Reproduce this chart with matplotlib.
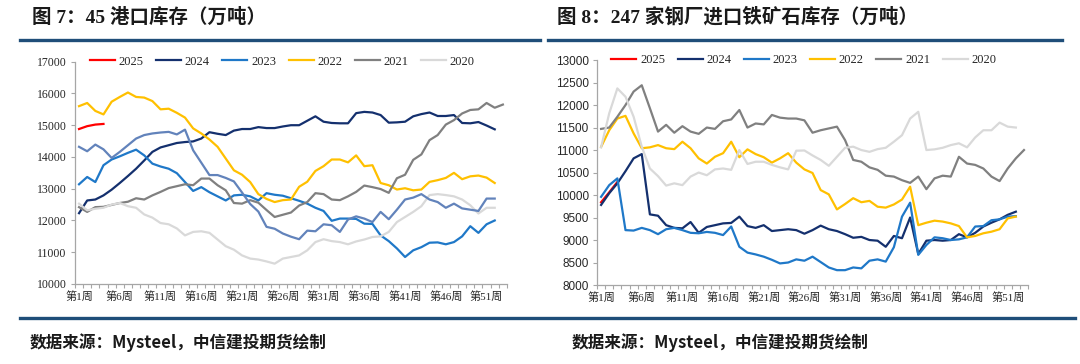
import matplotlib
matplotlib.use("Agg")
import matplotlib.pyplot as plt
from matplotlib.lines import Line2D

# ---- data ----------------------------------------------------------------
week_labels = [f"第{i}周" for i in range(1, 54)]
years = ["2025", "2024", "2023", "2022", "2021", "2020"]
year_colors = ["#ff0000", "#14306e", "#1f78c8", "#ffc000", "#808080", "#d9d9d9"]
extra_color = "#6283bb"  # unlabeled series on the port chart

# 45 港口库存（万吨）
port_2025 = [14880, 14970, 15020, 15040]
port_2024 = [12230, 12630, 12660, 12790, 12970, 13180, 13400, 13630, 13890, 14160,
             14300, 14370, 14440, 14470, 14490, 14580, 14780, 14730, 14690, 14830,
             14880, 14880, 14940, 14910, 14910, 14960, 15000, 15000, 15140, 15280,
             15110, 15070, 15060, 15060, 15380, 15420, 15400, 15320, 15080, 15090,
             15110, 15280, 15350, 15400, 15290, 15290, 15320, 15070, 15060, 15100,
             14990, 14870]
port_2023 = [13140, 13370, 13210, 13740, 13920, 14020, 14130, 14230, 14050, 13790,
             13700, 13630, 13490, 13210, 12930, 13050, 12890, 12760, 12630, 12790,
             12810, 12760, 12630, 12860, 12810, 12780, 12700, 12620, 12530, 12400,
             12300, 11990, 12060, 12060, 12050, 11900, 11890, 11530, 11350, 11120,
             10850, 11060, 11160, 11300, 11310, 11250, 11320, 11500, 11820, 11610,
             11880, 12000]
port_2022 = [15600, 15700, 15450, 15340, 15740, 15890, 16030, 15890, 15870, 15760,
             15500, 15520, 15390, 15240, 14900, 14740, 14550, 14320, 13950, 13580,
             13440, 13210, 12830, 12680, 12580, 12640, 12660, 13060, 13220, 13560,
             13710, 13920, 13920, 13830, 14050, 13710, 13740, 13180, 13110, 12975,
             13015, 12950, 12975, 13215, 13270, 13340, 13500, 13300, 13390, 13415,
             13350, 13180]
port_2021 = [12420, 12270, 12420, 12430, 12490, 12550, 12590, 12700, 12660, 12790,
             12900, 13020, 13080, 13140, 13110, 13320, 13320, 13110, 12950, 12550,
             12530, 12640, 12560, 12330, 12110, 12180, 12250, 12470, 12580, 12860,
             12830, 12660, 12640, 12760, 12900, 13100, 13050, 12990, 12870, 13330,
             13440, 13910, 14080, 14530, 14690, 15020, 15160, 15370, 15480, 15500,
             15700, 15550, 15650]
port_2020 = [12530, 12320, 12370, 12400, 12500, 12550, 12450, 12400, 12190, 12090,
             11920, 11880, 11750, 11530, 11640, 11660, 11610, 11400, 11190, 11080,
             10900, 10800, 10770, 10710, 10640, 10800, 10850, 10900, 11060, 11320,
             11410, 11350, 11320, 11250, 11340, 11400, 11480, 11500, 11640, 11950,
             12110, 12270, 12450, 12800, 12830, 12800, 12760, 12660, 12480, 12220,
             12400, 12400]
port_extra = [14320, 14180, 14390, 14240, 13970, 14160, 14370, 14580, 14690, 14740,
              14770, 14790, 14710, 14860, 14210, 13820, 13430, 13430, 13340, 13230,
              12880, 12520, 12280, 11800, 11740, 11590, 11490, 11410, 11680, 11660,
              11880, 11850, 11640, 12030, 12130, 12060, 11950, 12270, 12040, 12340,
              12660, 12720, 12830, 12660, 12580, 12400, 12530, 12380, 12340, 12300,
              12690, 12690]

# 247 家钢厂进口铁矿石库存（万吨）
mill_2025 = [9840, 10060, 10290]
mill_2024 = [9780, 10040, 10260, 10530, 10815, 10910, 9570, 9540, 9330, 9270,
             9260, 9400, 9160, 9290, 9330, 9370, 9380, 9520, 9310, 9270,
             9330, 9200, 9220, 9240, 9220, 9140, 9220, 9320, 9240, 9200,
             9130, 9050, 9070, 9000, 8985, 8850, 9090, 9040, 9500, 8690,
             8985, 9000, 8985, 9000, 9130, 9060, 9160, 9300, 9385, 9460,
             9560, 9630]
mill_2023 = [9960, 10220, 10370, 9220, 9210, 9270, 9220, 9130, 9240, 9270,
             9220, 9160, 9150, 9180, 9160, 9110, 9300, 8850, 8720, 8680,
             8630, 8560, 8480, 8500, 8570, 8540, 8630, 8510, 8390, 8330,
             8330, 8390, 8370, 8540, 8570, 8520, 8840, 9520, 9830, 8670,
             8890, 9060, 9040, 9000, 9015, 9060, 9300, 9310, 9440, 9460,
             9520, 9530]
mill_2022 = [11070, 11440, 11700, 11760, 11370, 11040, 11060, 11110, 11040, 11020,
             11185, 11040, 10815, 10700, 10850, 10930, 11185, 10840, 11015, 10910,
             10840, 10720, 10815, 10930, 10720, 10570, 10490, 10110, 10015, 9680,
             9800, 9930, 9840, 9870, 9740, 9720, 9790, 9900, 10185, 9330,
             9385, 9430, 9410, 9370, 9310, 9060, 9090, 9150, 9185, 9240,
             9480, 9520]
mill_2021 = [11470, 11500, 11740, 12000, 12300, 12440, 11930, 11410, 11560, 11385,
             11530, 11410, 11360, 11500, 11470, 11640, 11680, 11890, 11500, 11590,
             11570, 11780, 11720, 11700, 11700, 11660, 11385, 11440, 11480, 11520,
             11220, 10780, 10740, 10615, 10560, 10430, 10410, 10330, 10270, 10410,
             10130, 10370, 10430, 10410, 10850, 10700, 10670, 10590, 10410, 10310,
             10590, 10815, 11000]
mill_2020 = [11060, 11815, 12370, 12185, 11740, 11075, 10590, 10420, 10210, 10260,
             10220, 10410, 10500, 10440, 10570, 10590, 10560, 11000, 10690, 10740,
             10740, 10670, 10615, 10570, 10985, 10990, 10880, 10780, 10650, 10850,
             11050, 11075, 11000, 10960, 11020, 11050, 11185, 11330, 11700, 11850,
             11000, 11015, 11050, 11110, 11150, 11060, 11280, 11440, 11440, 11610,
             11520, 11500]

port_yticks = list(range(10000, 17001, 1000))
mill_yticks = list(range(8000, 13001, 500))

# ---- figure ----------------------------------------------------------------
plt.rcParams['font.family'] = ['Liberation Serif', 'Noto Sans CJK SC']
fig = plt.figure(figsize=(10.8, 3.64), dpi=100)

TEXT = "#262626"
AXIS = "#a6a6a6"
BAND = "#1f4e79"


def draw_panel(ax, series, extra, yticks, ytick_family, legend_x):
    n = len(week_labels)
    for vals, color, label in zip(series, year_colors, years):
        ax.plot(range(len(vals)), vals, color=color, lw=1.6, label=label,
                solid_joinstyle='round')
    if extra is not None:
        ax.plot(range(len(extra)), extra, color=extra_color, lw=1.6,
                solid_joinstyle='round')

    ax.set_xlim(-0.5, n - 0.5)
    ax.set_ylim(yticks[0], yticks[-1])
    ax.set_yticks(yticks)
    ax.set_yticklabels([str(v) for v in yticks], family=ytick_family,
                       fontsize=8.5, color=TEXT)

    ax.set_xticks(range(0, n, 5))
    ax.set_xticklabels(week_labels[::5], fontsize=8, color=TEXT)
    ax.set_xticks([i - 0.5 for i in range(n + 1)], minor=True)
    ax.tick_params(axis='x', which='major', length=0, pad=5)
    ax.tick_params(axis='x', which='minor', length=3, color=AXIS, width=0.8)
    ax.tick_params(axis='y', length=3, color=AXIS, width=0.8, pad=3)

    for side in ('top', 'right'):
        ax.spines[side].set_visible(False)
    for side in ('left', 'bottom'):
        ax.spines[side].set_color(AXIS)
        ax.spines[side].set_linewidth(0.9)

    ax.legend(loc='center', bbox_to_anchor=(legend_x, 1.0), ncol=6,
              frameon=False, fontsize=9, handlelength=2.0, handletextpad=0.3,
              columnspacing=1.0, borderaxespad=0, labelcolor=TEXT)


ax1 = fig.add_axes([0.0694, 0.2198, 0.40, 0.6107])
draw_panel(ax1,
           [port_2025, port_2024, port_2023, port_2022, port_2021, port_2020],
           port_extra, port_yticks, 'Liberation Serif', 0.48)

ax2 = fig.add_axes([0.5528, 0.217, 0.3991, 0.618])
draw_panel(ax2,
           [mill_2025, mill_2024, mill_2023, mill_2022, mill_2021, mill_2020],
           None, mill_yticks, 'Liberation Sans', 0.48)

# titles, bands and source notes
title_font = dict(family=['Liberation Serif', 'Noto Sans CJK SC'], fontsize=14,
                  fontweight='bold', color="#1a1a1a", va='center', ha='left')
fig.text(32 / 1080, 1 - 17 / 364, "图 7：45 港口库存（万吨）", **title_font)
fig.text(557 / 1080, 1 - 17 / 364, "图 8：247 家钢厂进口铁矿石库存（万吨）", **title_font)

for x0, x1 in [(20, 540), (548, 1062)]:
    fig.add_artist(Line2D([x0 / 1080, x1 / 1080], [1 - 40 / 364] * 2,
                          transform=fig.transFigure, color=BAND, lw=2.4))
fig.add_artist(Line2D([20 / 1080, 1075 / 1080], [1 - 318 / 364] * 2,
                      transform=fig.transFigure, color=BAND, lw=2.4))

src_font = dict(family=['Noto Sans CJK SC', 'DejaVu Sans'], fontsize=12,
                fontweight='bold', style='italic', color="#1a1a1a",
                va='center', ha='left')
fig.text(30 / 1080, 1 - 343 / 364, "数据来源：Mysteel，中信建投期货绘制", **src_font)
fig.text(572 / 1080, 1 - 343 / 364, "数据来源：Mysteel，中信建投期货绘制", **src_font)

fig.savefig("out.png", dpi=100)
